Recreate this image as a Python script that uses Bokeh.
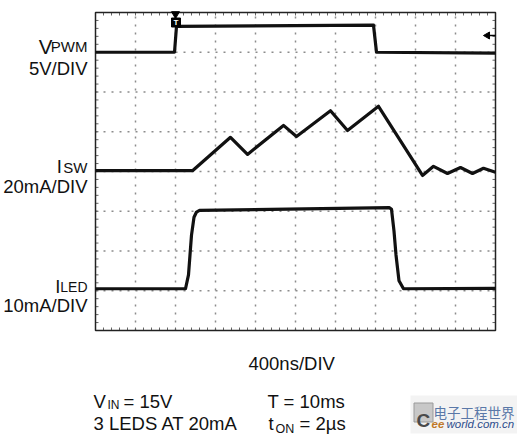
import numpy as np
from bokeh.plotting import figure
from bokeh.models import Range1d, Label
from bokeh.embed import file_html
from bokeh.resources import INLINE
from bokeh.core.properties import value

# time in ns (400 ns/DIV, 10 DIV); vertical in scope divisions (8 DIV)
t_pwm = [0, 790, 810, 2780, 2810, 4000]
v_pwm = [7.00, 7.00, 7.65, 7.68, 7.00, 6.98]

t_sw = [0, 970, 1350, 1520, 1880, 2010, 2350, 2520, 2830, 3270, 3380, 3520, 3650, 3770, 3880, 4000]
i_sw = [4.02, 4.02, 4.86, 4.43, 5.16, 4.88, 5.53, 5.03, 5.64, 3.90, 4.13, 3.95, 4.10, 3.95, 4.08, 3.98]

t_led = [0, 900, 930, 960, 985, 1010, 1040, 2940, 2960, 2985, 3005, 3035, 3080, 4000]
i_led = [1.05, 1.05, 1.40, 2.40, 2.85, 2.98, 3.02, 3.09, 3.05, 2.50, 1.90, 1.25, 1.05, 1.06]

n_div_x, n_div_y = 10, 8
ns_per_div = 400

FONT = "Liberation Sans"

# page-pixel -> data helpers for annotation placement
W, H = 517, 435
X0, Y0, PXD, PYD = 95.0, 330.0, 40.0, 39.75
def fx(x):
    return (x - X0) / PXD * ns_per_div
def fy(y):
    return (Y0 - y) / PYD

p = figure(width=W, height=H, x_range=Range1d(fx(0), fx(W)), y_range=Range1d(fy(H), fy(0)),
           x_axis_type=None, y_axis_type=None, toolbar_location=None,
           output_backend="svg", min_border=0)
p.background_fill_color = "white"
p.border_fill_color = "white"
p.outline_line_color = None
p.grid.visible = False

xmax = n_div_x * ns_per_div
# graticule: dotted division lines
gx = [ns_per_div * i for i in range(1, n_div_x)]
gy = [i for i in range(1, n_div_y)]
p.segment(x0=gx, y0=[0] * len(gx), x1=gx, y1=[n_div_y] * len(gx),
          line_color="#8c8c8c", line_dash="2 6", line_width=1.5)
p.segment(x0=[0] * len(gy), y0=gy, x1=[xmax] * len(gy), y1=gy,
          line_color="#8c8c8c", line_dash="2 6", line_width=1.5)

# minor tick marks along the frame edges (0.2 DIV)
mx = [ns_per_div * 0.2 * i for i in range(1, 5 * n_div_x)]
my = [0.2 * i for i in range(1, 5 * n_div_y)]
tl_y = 3.0 / PYD
tl_x = 3.0 / PXD * ns_per_div
p.segment(x0=mx, y0=[0] * len(mx), x1=mx, y1=[tl_y] * len(mx), line_color="#666666", line_width=1)
p.segment(x0=mx, y0=[n_div_y] * len(mx), x1=mx, y1=[n_div_y - tl_y] * len(mx), line_color="#666666", line_width=1)
p.segment(x0=[0] * len(my), y0=my, x1=[tl_x] * len(my), y1=my, line_color="#666666", line_width=1)
p.segment(x0=[xmax] * len(my), y0=my, x1=[xmax - tl_x] * len(my), y1=my, line_color="#666666", line_width=1)

# frame
p.quad(left=[0], right=[xmax], bottom=[0], top=[n_div_y], fill_color=None,
       line_color="#222222", line_width=1.5)

# traces
for t, v in ((t_pwm, v_pwm), (t_sw, i_sw), (t_led, i_led)):
    p.line(t, v, line_color="#111111", line_width=3.2, line_join="round")

# trigger markers
p.scatter(x=[fx(175)], y=[fy(13.5)], marker="inverted_triangle", size=8, color="black")
p.scatter(x=[fx(175.5)], y=[fy(22)], marker="square", size=9, color="black")
p.text(x=[fx(175.5)], y=[fy(22)], text=["T"], text_color="white", text_font=value(FONT),
       text_font_size="8px", text_font_style="bold", text_align="center", text_baseline="middle")
p.scatter(x=[fx(487)], y=[fy(35)], marker="triangle", angle=np.pi / 2, size=7, color="black")
p.segment(x0=[fx(488)], y0=[fy(35)], x1=[fx(495)], y1=[fy(35)], line_color="black", line_width=1.5)

# watermark backdrop and logo
p.quad(left=[fx(410)], right=[fx(517)], bottom=[fy(433)], top=[fy(395)],
       fill_color="#f3f3f3", line_color=None)
p.scatter(x=[fx(423)], y=[fy(412)], marker="square", size=19, fill_color="#c8c8c8",
          line_color="#9a9a9a")

def lab(text, x, y, size, align="left", color="#111111", font=FONT, style="normal"):
    p.add_layout(Label(x=fx(x), y=fy(y), text=text, text_font=font, text_font_size=size,
                       text_align=align, text_baseline="alphabetic", text_color=color,
                       text_font_style=style))

# channel labels
lab("V", 52, 45.5, "20.5px", "right")
lab("PWM", 87, 45.5, "15px", "right")
lab("5V/DIV", 87, 67.5, "18.5px", "right")
lab("I", 61.5, 166, "18.5px", "right")
lab("SW", 87, 167, "15px", "right")
lab("20mA/DIV", 87, 185.5, "18.5px", "right")
lab("I", 60, 286, "18.5px", "right")
lab("LED", 87, 286, "14px", "right")
lab("10mA/DIV", 87, 304.5, "18.5px", "right")

# bottom texts
lab("400ns/DIV", 248, 363, "18.5px")
lab("V", 93, 401, "18.5px")
lab("IN", 107, 404, "12px")
lab("= 15V", 123, 401, "18.5px")
lab("3 LEDS AT 20mA", 93, 423, "18.5px")
lab("T = 10ms", 267, 401, "18.5px")
lab("t", 268, 423, "18.5px")
lab("ON", 275, 428, "12.5px")
lab("= 2\u00b5s", 299, 423, "18.5px")

# watermark
lab("C", 416, 420, "19px", color="#4a4a4a", style="bold")
lab("电子工程世界", 433, 411, "13.5px", color="#5a78a8", font="Noto Sans CJK SC")
lab("ee", 431, 423.5, "11.5px", color="#c07a2a", style="bold italic")
lab("world.com.cn", 446, 423.5, "11.5px", color="#2d4d8c", style="italic")

open("out.html", "w").write(file_html(p, INLINE))
